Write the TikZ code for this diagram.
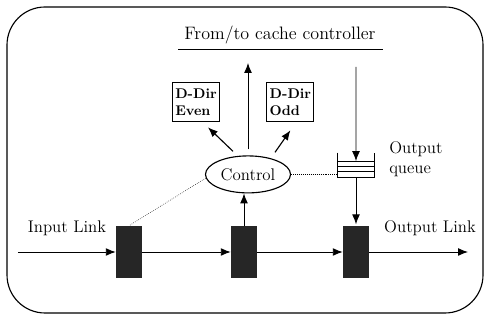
\documentclass[tikz,border=0pt]{standalone}
\usepackage{tikz}
\usetikzlibrary{arrows.meta, positioning, calc, shapes.geometric}

\begin{document}
\begin{tikzpicture}[>={Latex[length=7pt,width=5.5pt]},
  dirbox/.style={draw, semithick, align=left, font=\normalsize\bfseries,
    minimum height=0.975cm, inner sep=2pt},
  swblock/.style={fill=black!85, minimum width=0.65cm,
    minimum height=1.3cm, inner sep=0pt},
  lnk/.style={->, semithick}]
  \useasboundingbox (0,0) rectangle (12.175,8);
  \draw[thick, rounded corners=0.95cm] (0.175,0.175) rectangle (12.075,7.825);

  % cache controller side
  \node[font=\fontsize{12.8}{15}\selectfont] (title) at (7.0,7.125) {From/to cache controller};
  \draw[semithick] ([xshift=-1pt]title.south west) -- ([xshift=2pt]title.south east);
  \coordinate (ccout) at (6.2,6.425);
  \coordinate (ccin) at (8.9,6.325);

  % control and directories
  \node[draw, thick, ellipse, minimum width=2.125cm, minimum height=0.925cm,
    inner sep=0pt, font=\large] (control) at (6.2,3.64) {Control};
  \node[dirbox, minimum width=1.05cm] (even) at (4.9,5.44) {D-Dir\\Even};
  \node[dirbox, minimum width=1.175cm] (odd) at (7.26,5.44) {D-Dir\\Odd};
  \draw[lnk] ([yshift=0.15cm]control.north) -- (ccout);
  \draw[->, thick] ([shift={(-0.375,0.1)}]control.north) -- ([shift={(0.3,-0.125)}]even.south);
  \draw[->, thick] ([shift={(0.675,0.075)}]control.north) -- ([yshift=-0.2cm]odd.south);

  % output queue
  \node[minimum width=0.9cm, minimum height=0.6cm, inner sep=0pt] (queue) at (8.9,3.875) {};
  \draw[semithick] (queue.north west) -- (queue.south west) -- (queue.south east) -- (queue.north east);
  \foreach \f in {0.22,0.44,0.66}
    \draw[semithick] ($(queue.south west)!\f!(queue.north west)$) -- ($(queue.south east)!\f!(queue.north east)$);
  \node[right=0.25cm of queue, yshift=0.15cm, align=left, font=\large] (qlabel) {Output\\queue};
  \draw[lnk] (ccin) -- ($(queue.south)!0.66!(queue.north)$);
  \draw[densely dotted] (control.east) -- (control.east -| queue.west);

  % link path
  \node[swblock] (sw1) at (3.225,1.7) {};
  \node[swblock] (sw2) at (6.1,1.7) {};
  \node[swblock] (sw3) at (8.9,1.7) {};
  \coordinate (in) at (0.45,1.7);
  \coordinate (out) at (11.7,1.7);
  \draw[lnk] (in) -- (sw1);
  \draw[lnk] (sw1) -- (sw2);
  \draw[lnk] (sw2) -- (sw3);
  \draw[lnk] (sw3) -- (out);
  \node[font=\large] (inlabel) at (1.675,2.3) {Input Link};
  \node[font=\large] (outlabel) at (10.75,2.3) {Output Link};

  \draw[lnk] (sw2.north) -- (sw2.north |- control.south);
  \draw[lnk, shorten >=1pt] (queue.south) -- (sw3.north);
  \draw[densely dotted] (control.185) -- (sw1.north);
\end{tikzpicture}
\end{document}
